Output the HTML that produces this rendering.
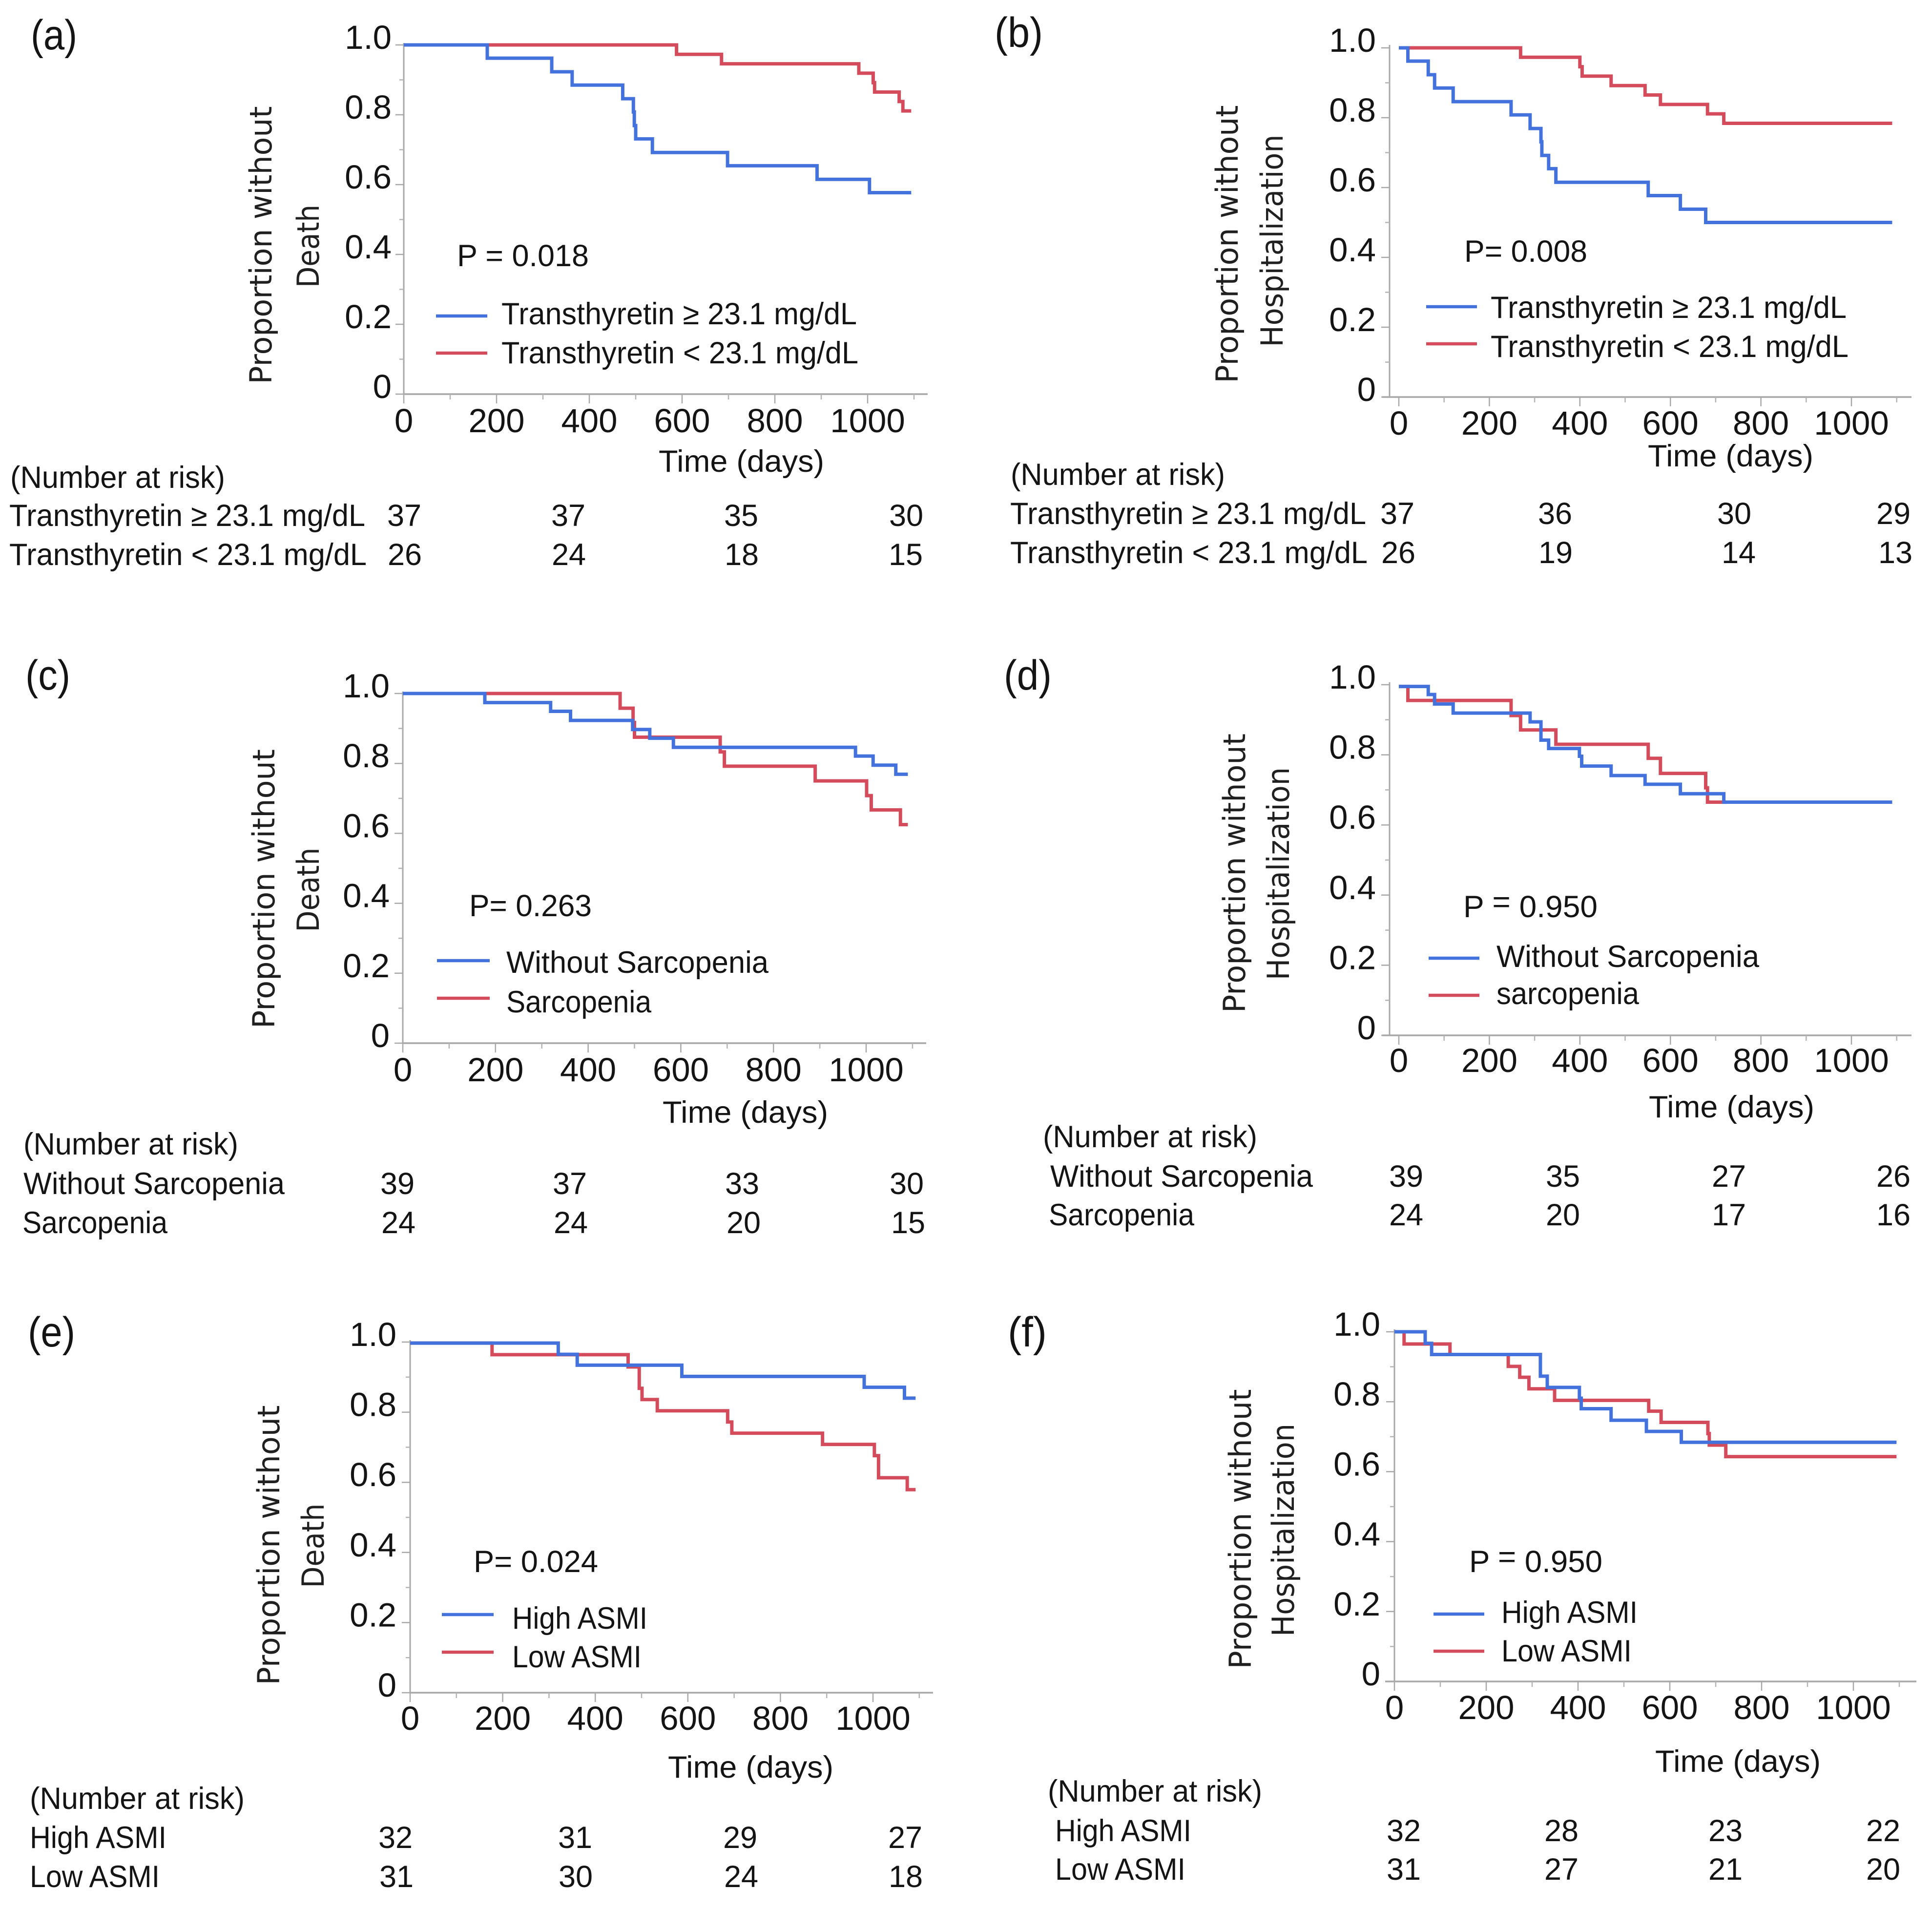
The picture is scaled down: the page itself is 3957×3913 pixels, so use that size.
<!DOCTYPE html>
<html lang="en">
<head>
<meta charset="utf-8">
<title>Kaplan-Meier survival curves</title>
<style>
html,body{margin:0;padding:0;background:#fff;}
svg{display:block;}
text{font-family:"Liberation Sans",sans-serif;fill:#141414;font-size:63px;}
.tick{font-size:69px;}
.letter{font-size:86px;}
.ytitle{font-family:"DejaVu Sans",sans-serif;font-size:62px;fill:#202020;}
.leg{stroke-width:6.5;fill:none;}
.blue{stroke:#4472DC;}
.red{stroke:#D44B5C;}
</style>
</head>
<body>
<svg id="figure" xmlns="http://www.w3.org/2000/svg" width="3957" height="3913" viewBox="0 0 3957 3913">
<rect width="3957" height="3913" fill="#fff"/>

<!-- PANEL A -->
<g>
<g id="plot-a"></g>
<text class="letter" x="63" y="101" textLength="95" lengthAdjust="spacingAndGlyphs">(a)</text>
<text class="ytitle" transform="translate(556 502) rotate(-90)" text-anchor="middle" textLength="569" lengthAdjust="spacingAndGlyphs">Proportion without</text>
<text class="ytitle" transform="translate(653 504) rotate(-90)" text-anchor="middle" textLength="170" lengthAdjust="spacingAndGlyphs">Death</text>
<text x="936" y="545" textLength="270" lengthAdjust="spacingAndGlyphs">P = 0.018</text>
<line class="leg blue" x1="893" x2="998" y1="647" y2="647"/>
<line class="leg red" x1="893" x2="998" y1="723" y2="723"/>
<text x="1027" y="664" textLength="728" lengthAdjust="spacingAndGlyphs">Transthyretin ≥ 23.1 mg/dL</text>
<text x="1027" y="744" textLength="731" lengthAdjust="spacingAndGlyphs">Transthyretin &lt; 23.1 mg/dL</text>
<text x="1349" y="966" textLength="339" lengthAdjust="spacingAndGlyphs">Time (days)</text>
<text x="21" y="999" textLength="440" lengthAdjust="spacingAndGlyphs">(Number at risk)</text>
<text x="19" y="1077" textLength="729" lengthAdjust="spacingAndGlyphs">Transthyretin ≥ 23.1 mg/dL</text>
<text x="19" y="1157" textLength="732" lengthAdjust="spacingAndGlyphs">Transthyretin &lt; 23.1 mg/dL</text>
<g text-anchor="middle">
<text x="828" y="1077">37</text>
<text x="1164" y="1077">37</text>
<text x="1518" y="1077">35</text>
<text x="1856" y="1077">30</text>
<text x="829" y="1157">26</text>
<text x="1165" y="1157">24</text>
<text x="1519" y="1157">18</text>
<text x="1855" y="1157">15</text>
</g>
</g>

<!-- PANEL B -->
<g>
<g id="plot-b"></g>
<text class="letter" x="2037" y="96" textLength="99" lengthAdjust="spacingAndGlyphs">(b)</text>
<text class="ytitle" transform="translate(2535 500) rotate(-90)" text-anchor="middle" textLength="569" lengthAdjust="spacingAndGlyphs">Proportion without</text>
<text class="ytitle" transform="translate(2627 493) rotate(-90)" text-anchor="middle" textLength="435" lengthAdjust="spacingAndGlyphs">Hospitalization</text>
<text x="2999" y="536" textLength="252" lengthAdjust="spacingAndGlyphs">P= 0.008</text>
<line class="leg blue" x1="2921" x2="3025" y1="628" y2="628"/>
<line class="leg red" x1="2921" x2="3025" y1="704" y2="704"/>
<text x="3053" y="651" textLength="729" lengthAdjust="spacingAndGlyphs">Transthyretin ≥ 23.1 mg/dL</text>
<text x="3053" y="731" textLength="733" lengthAdjust="spacingAndGlyphs">Transthyretin &lt; 23.1 mg/dL</text>
<text x="3375" y="955" textLength="339" lengthAdjust="spacingAndGlyphs">Time (days)</text>
<text x="2070" y="993" textLength="439" lengthAdjust="spacingAndGlyphs">(Number at risk)</text>
<text x="2069" y="1073" textLength="729" lengthAdjust="spacingAndGlyphs">Transthyretin ≥ 23.1 mg/dL</text>
<text x="2069" y="1153" textLength="732" lengthAdjust="spacingAndGlyphs">Transthyretin &lt; 23.1 mg/dL</text>
<g text-anchor="middle">
<text x="2862" y="1073">37</text>
<text x="3185" y="1073">36</text>
<text x="3552" y="1073">30</text>
<text x="3878" y="1073">29</text>
<text x="2864" y="1153">26</text>
<text x="3186" y="1153">19</text>
<text x="3561" y="1153">14</text>
<text x="3882" y="1153">13</text>
</g>
</g>

<!-- PANEL C -->
<g>
<g id="plot-c"></g>
<text class="letter" x="52" y="1412" textLength="92" lengthAdjust="spacingAndGlyphs">(c)</text>
<text class="ytitle" transform="translate(562 1820) rotate(-90)" text-anchor="middle" textLength="572" lengthAdjust="spacingAndGlyphs">Proportion without</text>
<text class="ytitle" transform="translate(653 1822) rotate(-90)" text-anchor="middle" textLength="173" lengthAdjust="spacingAndGlyphs">Death</text>
<text x="961" y="1876" textLength="251" lengthAdjust="spacingAndGlyphs">P= 0.263</text>
<line class="leg blue" x1="895" x2="1003" y1="1967" y2="1967"/>
<line class="leg red" x1="895" x2="1003" y1="2044" y2="2044"/>
<text x="1037" y="1992" textLength="537" lengthAdjust="spacingAndGlyphs">Without Sarcopenia</text>
<text x="1037" y="2073" textLength="297" lengthAdjust="spacingAndGlyphs">Sarcopenia</text>
<text x="1357" y="2299" textLength="339" lengthAdjust="spacingAndGlyphs">Time (days)</text>
<text x="48" y="2364" textLength="440" lengthAdjust="spacingAndGlyphs">(Number at risk)</text>
<text x="48" y="2445" textLength="535" lengthAdjust="spacingAndGlyphs">Without Sarcopenia</text>
<text x="46" y="2525" textLength="297" lengthAdjust="spacingAndGlyphs">Sarcopenia</text>
<g text-anchor="middle">
<text x="814" y="2445">39</text>
<text x="1167" y="2445">37</text>
<text x="1520" y="2445">33</text>
<text x="1857" y="2445">30</text>
<text x="816" y="2525">24</text>
<text x="1169" y="2525">24</text>
<text x="1523" y="2525">20</text>
<text x="1860" y="2525">15</text>
</g>
</g>

<!-- PANEL D -->
<g>
<g id="plot-d"></g>
<text class="letter" x="2056" y="1412" textLength="98" lengthAdjust="spacingAndGlyphs">(d)</text>
<text class="ytitle" transform="translate(2550 1788) rotate(-90)" text-anchor="middle" textLength="572" lengthAdjust="spacingAndGlyphs">Proportion without</text>
<text class="ytitle" transform="translate(2640 1789) rotate(-90)" text-anchor="middle" textLength="436" lengthAdjust="spacingAndGlyphs">Hospitalization</text>
<text x="2997" y="1878" textLength="275" lengthAdjust="spacingAndGlyphs">P <tspan dy="-10">=</tspan><tspan dy="10"> 0.950</tspan></text>
<line class="leg blue" x1="2926" x2="3030" y1="1962" y2="1962"/>
<line class="leg red" x1="2926" x2="3030" y1="2038" y2="2038"/>
<text x="3065" y="1980" textLength="538" lengthAdjust="spacingAndGlyphs">Without Sarcopenia</text>
<text x="3065" y="2056" textLength="292" lengthAdjust="spacingAndGlyphs">sarcopenia</text>
<text x="3377" y="2288" textLength="339" lengthAdjust="spacingAndGlyphs">Time (days)</text>
<text x="2136" y="2349" textLength="439" lengthAdjust="spacingAndGlyphs">(Number at risk)</text>
<text x="2151" y="2430" textLength="538" lengthAdjust="spacingAndGlyphs">Without Sarcopenia</text>
<text x="2148" y="2509" textLength="298" lengthAdjust="spacingAndGlyphs">Sarcopenia</text>
<g text-anchor="middle">
<text x="2880" y="2430">39</text>
<text x="3201" y="2430">35</text>
<text x="3541" y="2430">27</text>
<text x="3878" y="2430">26</text>
<text x="2880" y="2509">24</text>
<text x="3201" y="2509">20</text>
<text x="3541" y="2509">17</text>
<text x="3878" y="2509">16</text>
</g>
</g>

<!-- PANEL E -->
<g>
<g id="plot-e"></g>
<text class="letter" x="57" y="2757" textLength="97" lengthAdjust="spacingAndGlyphs">(e)</text>
<text class="ytitle" transform="translate(572 3164) rotate(-90)" text-anchor="middle" textLength="573" lengthAdjust="spacingAndGlyphs">Proportion without</text>
<text class="ytitle" transform="translate(663 3165) rotate(-90)" text-anchor="middle" textLength="173" lengthAdjust="spacingAndGlyphs">Death</text>
<text x="970" y="3219" textLength="255" lengthAdjust="spacingAndGlyphs">P= 0.024</text>
<line class="leg blue" x1="905" x2="1011" y1="3306" y2="3306"/>
<line class="leg red" x1="905" x2="1011" y1="3383" y2="3383"/>
<text x="1049" y="3335" textLength="277" lengthAdjust="spacingAndGlyphs">High ASMI</text>
<text x="1049" y="3414" textLength="265" lengthAdjust="spacingAndGlyphs">Low ASMI</text>
<text x="1368" y="3640" textLength="339" lengthAdjust="spacingAndGlyphs">Time (days)</text>
<text x="61" y="3704" textLength="440" lengthAdjust="spacingAndGlyphs">(Number at risk)</text>
<text x="61" y="3784" textLength="280" lengthAdjust="spacingAndGlyphs">High ASMI</text>
<text x="61" y="3864" textLength="266" lengthAdjust="spacingAndGlyphs">Low ASMI</text>
<g text-anchor="middle">
<text x="810" y="3784">32</text>
<text x="1178" y="3784">31</text>
<text x="1516" y="3784">29</text>
<text x="1854" y="3784">27</text>
<text x="812" y="3864">31</text>
<text x="1179" y="3864">30</text>
<text x="1518" y="3864">24</text>
<text x="1855" y="3864">18</text>
</g>
</g>

<!-- PANEL F -->
<g>
<g id="plot-f"></g>
<text class="letter" x="2064" y="2757" textLength="80" lengthAdjust="spacingAndGlyphs">(f)</text>
<text class="ytitle" transform="translate(2562 3131) rotate(-90)" text-anchor="middle" textLength="573" lengthAdjust="spacingAndGlyphs">Proportion without</text>
<text class="ytitle" transform="translate(2650 3133) rotate(-90)" text-anchor="middle" textLength="436" lengthAdjust="spacingAndGlyphs">Hospitalization</text>
<text x="3009" y="3219" textLength="273" lengthAdjust="spacingAndGlyphs">P <tspan dy="-10">=</tspan><tspan dy="10"> 0.950</tspan></text>
<line class="leg blue" x1="2936" x2="3040" y1="3305" y2="3305"/>
<line class="leg red" x1="2936" x2="3040" y1="3381" y2="3381"/>
<text x="3075" y="3323" textLength="279" lengthAdjust="spacingAndGlyphs">High ASMI</text>
<text x="3075" y="3402" textLength="267" lengthAdjust="spacingAndGlyphs">Low ASMI</text>
<text x="3390" y="3628" textLength="339" lengthAdjust="spacingAndGlyphs">Time (days)</text>
<text x="2146" y="3689" textLength="439" lengthAdjust="spacingAndGlyphs">(Number at risk)</text>
<text x="2161" y="3770" textLength="279" lengthAdjust="spacingAndGlyphs">High ASMI</text>
<text x="2161" y="3849" textLength="267" lengthAdjust="spacingAndGlyphs">Low ASMI</text>
<g text-anchor="middle">
<text x="2875" y="3770">32</text>
<text x="3198" y="3770">28</text>
<text x="3534" y="3770">23</text>
<text x="3857" y="3770">22</text>
<text x="2875" y="3849">31</text>
<text x="3198" y="3849">27</text>
<text x="3534" y="3849">21</text>
<text x="3857" y="3849">20</text>
</g>
</g>
</svg>

<script>
// Axis tick values and labels
const xMajorTicks = [0, 200, 400, 600, 800, 1000];
const xMinorTicks = [100, 300, 500, 700, 900, 1100];
const yMajorTicks = [0, 0.2, 0.4, 0.6, 0.8, 1.0];
const yMinorTicks = [0.1, 0.3, 0.5, 0.7, 0.9];
const xTickLabels = ['0', '200', '400', '600', '800', '1000'];
const yTickLabels = ['0', '0.2', '0.4', '0.6', '0.8', '1.0'];

// Series values: days and proportion
const aBlueDays = [0, 180, 319, 363, 472, 495, 497, 500, 536, 698, 891, 1004, 1094];
const aBlueProp = [1, 0.962, 0.923, 0.885, 0.846, 0.808, 0.769, 0.731, 0.692, 0.654, 0.615, 0.577, 0.577];
const aRedDays = [0, 588, 685, 981, 1012, 1015, 1068, 1076, 1094];
const aRedProp = [1, 0.973, 0.946, 0.919, 0.892, 0.865, 0.838, 0.811, 0.811];

const bBlueDays = [0, 20, 65, 79, 120, 248, 290, 314, 316, 331, 347, 551, 622, 678, 1090];
const bBlueProp = [1, 0.962, 0.923, 0.885, 0.846, 0.808, 0.769, 0.731, 0.692, 0.654, 0.615, 0.577, 0.538, 0.5, 0.5];
const bRedDays = [0, 269, 400, 405, 469, 544, 578, 682, 718, 1090];
const bRedProp = [1, 0.973, 0.946, 0.919, 0.892, 0.865, 0.838, 0.811, 0.784, 0.784];

const cBlueDays = [0, 177, 319, 362, 496, 533, 584, 977, 1015, 1064, 1090];
const cBlueProp = [1, 0.974, 0.949, 0.923, 0.897, 0.872, 0.846, 0.821, 0.795, 0.769, 0.769];
const cRedDays = [0, 469, 497, 500, 685, 694, 890, 1001, 1011, 1074, 1090];
const cRedProp = [1, 0.958, 0.917, 0.875, 0.833, 0.792, 0.75, 0.708, 0.667, 0.625, 0.625];

const dBlueDays = [0, 65, 79, 120, 290, 314, 331, 399, 404, 469, 544, 622, 718, 1090];
const dBlueProp = [0.995, 0.972, 0.945, 0.919, 0.894, 0.842, 0.818, 0.796, 0.768, 0.741, 0.716, 0.689, 0.665, 0.665];
const dRedDays = [0, 20, 248, 269, 347, 551, 578, 678, 682, 1090];
const dRedProp = [0.995, 0.955, 0.912, 0.871, 0.83, 0.79, 0.747, 0.706, 0.665, 0.665];

const eBlueDays = [0, 320, 361, 587, 981, 1068, 1092];
const eBlueProp = [0.997, 0.965, 0.934, 0.902, 0.871, 0.84, 0.84];
const eRedDays = [0, 177, 471, 495, 501, 534, 686, 695, 891, 1003, 1012, 1074, 1092];
const eRedProp = [0.997, 0.964, 0.929, 0.868, 0.836, 0.804, 0.772, 0.74, 0.708, 0.676, 0.613, 0.579, 0.579];

const fBlueDays = [0, 67, 81, 318, 333, 403, 407, 472, 549, 625, 1094];
const fBlueProp = [1, 0.967, 0.935, 0.873, 0.841, 0.81, 0.78, 0.747, 0.715, 0.684, 0.684];
const fRedDays = [0, 21, 121, 248, 273, 293, 349, 554, 581, 683, 686, 722, 1094];
const fRedProp = [1, 0.965, 0.935, 0.901, 0.87, 0.837, 0.804, 0.773, 0.741, 0.709, 0.676, 0.643, 0.643];

// Panel geometry (axis frames only)
const frames = {
  a: {x0: 827,  x1000: 1777, y0: 807,  y1: 92,   axisLeft: 827,  axisStart: 827,  axisEnd: 1900, axisTop: 88,   labelRight: 802,  labelBase: 885},
  b: {x0: 2865, x1000: 3792, y0: 813,  y1: 98,   axisLeft: 2846, axisStart: 2831, axisEnd: 3915, axisTop: 92,   labelRight: 2818, labelBase: 890},
  c: {x0: 825,  x1000: 1774, y0: 2136, y1: 1420, axisLeft: 825,  axisStart: 825,  axisEnd: 1897, axisTop: 1416, labelRight: 798,  labelBase: 2214},
  d: {x0: 2865, x1000: 3792, y0: 2120, y1: 1402, axisLeft: 2846, axisStart: 2831, axisEnd: 3915, axisTop: 1397, labelRight: 2818, labelBase: 2195},
  e: {x0: 840,  x1000: 1788, y0: 3466, y1: 2748, axisLeft: 840,  axisStart: 840,  axisEnd: 1911, axisTop: 2744, labelRight: 812,  labelBase: 3542},
  f: {x0: 2856, x1000: 3796, y0: 3443, y1: 2727, axisLeft: 2856, axisStart: 2837, axisEnd: 3925, axisTop: 2722, labelRight: 2827, labelBase: 3520}
};

const NS = 'http://www.w3.org/2000/svg';

function makeLine(parent, x1, y1, x2, y2, color, width) {
  const el = document.createElementNS(NS, 'line');
  el.setAttribute('x1', x1);
  el.setAttribute('y1', y1);
  el.setAttribute('x2', x2);
  el.setAttribute('y2', y2);
  el.setAttribute('stroke', color);
  el.setAttribute('stroke-width', width);
  parent.appendChild(el);
  return el;
}

function makeLabel(parent, x, y, anchor, content) {
  const el = document.createElementNS(NS, 'text');
  el.setAttribute('class', 'tick');
  el.setAttribute('x', x);
  el.setAttribute('y', y);
  el.setAttribute('text-anchor', anchor);
  el.textContent = content;
  parent.appendChild(el);
  return el;
}

function drawAxes(group, f, xs, ys) {
  const yAxis = makeLine(group, f.axisLeft, f.axisTop, f.axisLeft, f.y0, '#a8a8a8', 3);
  
  
  const xAxis = makeLine(group, f.axisStart, f.y0, f.axisEnd, f.y0, '#a8a8a8', 3.5);
  
  

  xMajorTicks.forEach(function (v, i) {
    const t = makeLine(group, xs(v), f.y0, xs(v), f.y0 + 19, '#a8a8a8', 2.5);
    
    
    const l = makeLabel(group, xs(v), f.labelBase, 'middle', xTickLabels[i]);
    
    
  });
  xMinorTicks.forEach(function (v) {
    const t = makeLine(group, xs(v), f.y0, xs(v), f.y0 + 11, '#b4b4b4', 2.5);
    
    
  });
  yMajorTicks.forEach(function (v, i) {
    const t = makeLine(group, f.axisLeft - 17, ys(v), f.axisLeft, ys(v), '#a8a8a8', 2.5);
    
    
    const l = makeLabel(group, f.labelRight, ys(v) + 8, 'end', yTickLabels[i]);
    
    
  });
  yMinorTicks.forEach(function (v) {
    const t = makeLine(group, f.axisLeft - 9, ys(v), f.axisLeft, ys(v), '#b4b4b4', 2.5);
    
    
  });
}

function stepPath(days, props, xs, ys) {
  let d = 'M' + xs(days[0]) + ' ' + ys(props[0]);
  for (let i = 1; i < days.length; i++) {
    d += 'H' + xs(days[i]) + 'V' + ys(props[i]);
  }
  return d;
}

function drawCurve(group, days, props, xs, ys, color) {
  const el = document.createElementNS(NS, 'path');
  el.setAttribute('d', stepPath(days, props, xs, ys));
  el.setAttribute('fill', 'none');
  el.setAttribute('stroke', color);
  el.setAttribute('stroke-width', '7');
  el.setAttribute('stroke-linejoin', 'miter');
  group.appendChild(el);
  return el;
}

function drawPanel(key, blueDays, blueProp, redDays, redProp) {
  const f = frames[key];
  const group = document.getElementById('plot-' + key);
  const xs = function (v) { return f.x0 + (f.x1000 - f.x0) * v / 1000; };
  const ys = function (v) { return f.y0 + (f.y1 - f.y0) * v; };
  drawAxes(group, f, xs, ys);
  const red = drawCurve(group, redDays, redProp, xs, ys, '#D44B5C');
  
  
  const blue = drawCurve(group, blueDays, blueProp, xs, ys, '#4472DC');
  
  
}

drawPanel('a', aBlueDays, aBlueProp, aRedDays, aRedProp);
drawPanel('b', bBlueDays, bBlueProp, bRedDays, bRedProp);
drawPanel('c', cBlueDays, cBlueProp, cRedDays, cRedProp);
drawPanel('d', dBlueDays, dBlueProp, dRedDays, dRedProp);
drawPanel('e', eBlueDays, eBlueProp, eRedDays, eRedProp);
drawPanel('f', fBlueDays, fBlueProp, fRedDays, fRedProp);
</script>
</body>
</html>
